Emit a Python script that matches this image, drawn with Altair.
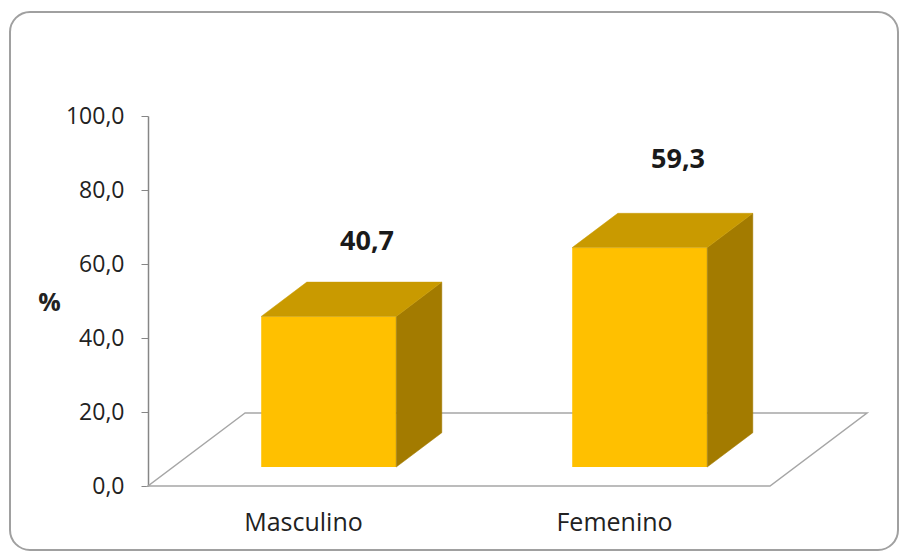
import altair as alt
import pandas as pd

# ---- data ----
categories = ["Masculino", "Femenino"]
values = [40.7, 59.3]
y_ticks = [0, 20, 40, 60, 80, 100]

# ---- layout / 3D style constants ----
W, H = 720, 370
PX_PER_UNIT = H / 100.0
BAND = 311.0           # width of one category slot along the floor front edge (x units)
FLOOR_DX = 97.0        # horizontal depth of the floor (x units)
FLOOR_DY = 73.0 / PX_PER_UNIT  # vertical depth of the floor (value units)
D0, D1 = 0.26, 0.73    # depth fractions of bar front / back faces
BAR_W = 135.0
FRONT = "#FFC000"
SIDE = "#A37B00"
TOP = "#C99A00"
FONT = "Open Sans"

SDX = (D1 - D0) * FLOOR_DX
SDY = (D1 - D0) * FLOOR_DY
BASE = D0 * FLOOR_DY

front_rows, side_rows, top_rows, lab_rows, cat_rows = [], [], [], [], []
for i, (c, v) in enumerate(zip(categories, values)):
    center = (i + 0.5) * BAND
    fl = center + D0 * FLOOR_DX - BAR_W / 2
    fr = fl + BAR_W
    bot = BASE
    top = BASE + v
    front_rows.append(dict(cat=c, x=fl, x2=fr, y=bot, y2=top))
    side_rows += [dict(cat=c, x=fr, y=top, y2=bot),
                  dict(cat=c, x=fr + SDX, y=top + SDY, y2=bot + SDY)]
    top_rows += [dict(cat=c, y=top, x=fl, x2=fr),
                 dict(cat=c, y=top + SDY, x=fl + SDX, x2=fr + SDX)]
    lab_rows.append(dict(cat=c, x=center + 0.5 * FLOOR_DX + 15, y=1.2 * v + 17,
                         t=f"{v:.1f}".replace(".", ",")))
    cat_rows.append(dict(cat=c, x=center, y=-10))

floor_df = pd.DataFrame([
    dict(y=0.0, x=0.0, x2=2 * BAND),
    dict(y=FLOOR_DY, x=FLOOR_DX, x2=2 * BAND + FLOOR_DX),
])

xs = alt.Scale(domain=[0, W], nice=False, zero=False)
ys = alt.Scale(domain=[0, 100], nice=False, zero=False)

label_expr = "replace(format(datum.value, '.1f'), '.', ',')"
y_axis = alt.Axis(
    values=y_ticks, labelExpr=label_expr, grid=False,
    domainColor="#868686", tickColor="#868686", tickSize=7, domainWidth=1.5,
    labelFont=FONT, labelFontSize=23, labelColor="#222222", labelPadding=17,
    title="%", titleAngle=0, titleFont=FONT, titleFontSize=25, titleFontWeight="bold",
    titleColor="#222222", titleX=-99, titleY=186, titleAlign="center",
    titleBaseline="middle")


def Y(field):
    return alt.Y(field, scale=ys, axis=y_axis)


def X(field):
    return alt.X(field, scale=xs, axis=None)


floor = alt.Chart(floor_df).mark_area(
    orient="horizontal", fill="white", stroke="#A6A6A6", strokeWidth=1.5
).encode(y=Y("y:Q"), x=X("x:Q"), x2="x2:Q")

front = alt.Chart(pd.DataFrame(front_rows)).mark_rect(color=FRONT).encode(
    x=X("x:Q"), x2="x2:Q", y=Y("y:Q"), y2="y2:Q",
)

side = alt.Chart(pd.DataFrame(side_rows)).mark_area(
    color=SIDE, stroke=SIDE, strokeWidth=0.5
).encode(x=X("x:Q"), y=Y("y:Q"), y2="y2:Q", detail="cat:N")

topf = alt.Chart(pd.DataFrame(top_rows)).mark_area(
    orient="horizontal", color=TOP, stroke=TOP, strokeWidth=0.5
).encode(y=Y("y:Q"), x=X("x:Q"), x2="x2:Q", detail="cat:N")

labels = alt.Chart(pd.DataFrame(lab_rows)).mark_text(
    font=FONT, fontSize=27, fontWeight="bold", color="#1a1a1a", baseline="middle"
).encode(x=X("x:Q"), y=Y("y:Q"), text="t:N")

cats = alt.Chart(pd.DataFrame(cat_rows)).mark_text(
    font=FONT, fontSize=25, color="#222222", baseline="middle"
).encode(x=X("x:Q"), y=Y("y:Q"), text="cat:N")

border = alt.Chart(pd.DataFrame({"a": [0]})).mark_rect(
    fill="white", fillOpacity=0, stroke="#A0A0A0", strokeWidth=2, cornerRadius=20
).encode(
    x=alt.value(-138), x2=alt.value(750), y=alt.value(-104), y2=alt.value(434)
)

chart = alt.layer(floor, front, side, topf, labels, cats, border).properties(
    width=W, height=H,
    autosize=alt.AutoSizeParams(type="none"),
    padding={"left": 148, "top": 116, "right": 36, "bottom": 69},
    background="white",
).configure_view(stroke=None)

chart.save("out.html", embed_options={"renderer": "svg", "actions": False})
